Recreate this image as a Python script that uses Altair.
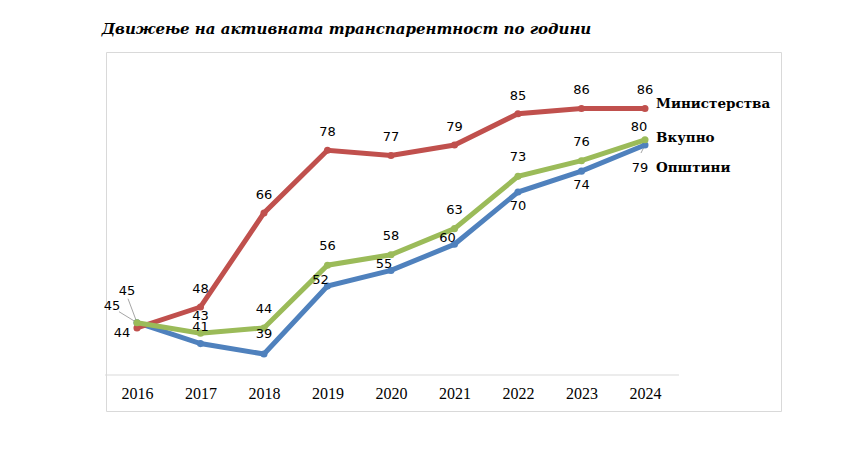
"""Line chart: movement of active transparency by year."""

import altair as alt
import pandas as pd

years = [2016, 2017, 2018, 2019, 2020, 2021, 2022, 2023, 2024]
ministries = [44, 48, 66, 78, 77, 79, 85, 86, 86]
total = [45, 43, 44, 56, 58, 63, 73, 76, 80]
municipalities = [45, 41, 39, 52, 55, 60, 70, 74, 79]

series_names = ["Општини", "Министерства", "Вкупно"]
series_colors = ["#4F81BD", "#C0504D", "#9BBB59"]
title_text = "Движење на активната транспарентност по години"

SANS = "DejaVu Sans"
SERIF = "Liberation Serif"
SERIF_WIDE = "DejaVu Serif"

rows = []
for name, values in zip(series_names, [municipalities, ministries, total]):
    for year, value in zip(years, values):
        rows.append({"series": name, "year": year, "value": value})
df = pd.DataFrame(rows)

x_scale = alt.Scale(domain=[2015.512, 2026.142], nice=False, zero=False)
y_scale = alt.Scale(domain=[28.1, 96.8], nice=False, zero=False)
color_scale = alt.Scale(domain=series_names, range=series_colors)

base = alt.Chart(df).encode(
    x=alt.X(
        "year:Q",
        scale=x_scale,
        axis=alt.Axis(
            values=years,
            format="d",
            title=None,
            domain=False,
            ticks=False,
            grid=False,
            offset=-36,
            labelPadding=10,
            labelFont=SERIF,
            labelFontSize=16,
            labelColor="#000000",
        ),
    ),
    y=alt.Y("value:Q", scale=y_scale, axis=None),
    color=alt.Color("series:N", scale=color_scale, legend=None),
)


def pick(name, yrs):
    """Filter expression for one series and some years."""
    return f"datum.series == '{name}' && indexof({list(yrs)}, datum.year) >= 0"


# x axis line: from half a step before the first year to half a step after the last
axis_line = (
    alt.Chart(df)
    .mark_rule(color="#d9d9d9", strokeWidth=1, xOffset=-32, x2Offset=34)
    .encode(
        x=alt.X("min(year):Q", scale=x_scale),
        x2="max(year):Q",
        y=alt.value(323),
    )
)
layers = [axis_line]

# leader lines for the crowded labels
leaders = [
    ("Вкупно", 2016, -9, -24),
    ("Општини", 2016, -18, -11),
    ("Општини", 2024, -4, 8),
]
for name, year, ox, oy in leaders:
    layers.append(
        base.transform_filter(pick(name, [year]))
        .mark_rule(strokeWidth=1, x2Offset=ox, y2Offset=oy)
        .encode(x2="year:Q", y2="value:Q", color=alt.value("#a6a6a6"))
    )

for name in series_names:
    layers.append(
        base.transform_filter(pick(name, years)).mark_line(
            strokeWidth=5,
            point=alt.OverlayMarkDef(size=50, filled=True, opacity=1),
        )
    )

# value labels: (series, years, dx, dy)
nudges = [
    ("Министерства", [2017, 2018, 2019, 2020, 2021, 2022, 2023, 2024], 0, -18),
    ("Министерства", [2016], -15, 5),
    ("Вкупно", [2018, 2019, 2020, 2021, 2022, 2023], 0, -19),
    ("Вкупно", [2017], 0, -17),
    ("Вкупно", [2016], -10, -32),
    ("Вкупно", [2024], -6, -13),
    ("Општини", [2017], 0, -17),
    ("Општини", [2018], 0, -20),
    ("Општини", [2019, 2020, 2021], -7, -6),
    ("Општини", [2022, 2023], 0, 14),
    ("Општини", [2016], -25, -17),
    ("Општини", [2024], -5, 23),
]
for name, yrs, dx, dy in nudges:
    layers.append(
        base.transform_filter(pick(name, yrs))
        .mark_text(font=SANS, fontSize=13, dx=dx, dy=dy)
        .encode(text="value:Q", color=alt.value("#000000"))
    )

# series names at the end of each line
name_offsets = {"Министерства": -4, "Вкупно": -2, "Општини": 23}
for name, dy in name_offsets.items():
    layers.append(
        base.transform_filter(pick(name, years[-1:]))
        .mark_text(
            font=SERIF_WIDE,
            fontSize=13.5,
            fontWeight="bold",
            align="left",
            dx=11,
            dy=dy,
        )
        .encode(text="series:N", color=alt.value("#000000"))
    )

chart = (
    alt.layer(*layers)
    .properties(
        width=675,
        height=359,
        padding={"left": 98, "top": 44, "right": 20, "bottom": 20},
        autosize=alt.AutoSizeParams(type="none"),
        background="#ffffff",
        title=alt.TitleParams(
            title_text,
            anchor="start",
            font=SERIF_WIDE,
            fontSize=15,
            fontWeight="bold",
            fontStyle="italic",
            color="#000000",
            offset=15,
            dx=-2,
        ),
    )
    .configure_view(stroke="#d9d9d9", strokeWidth=1)
)

chart.save("out.html", embed_options={"renderer": "svg", "actions": False})
